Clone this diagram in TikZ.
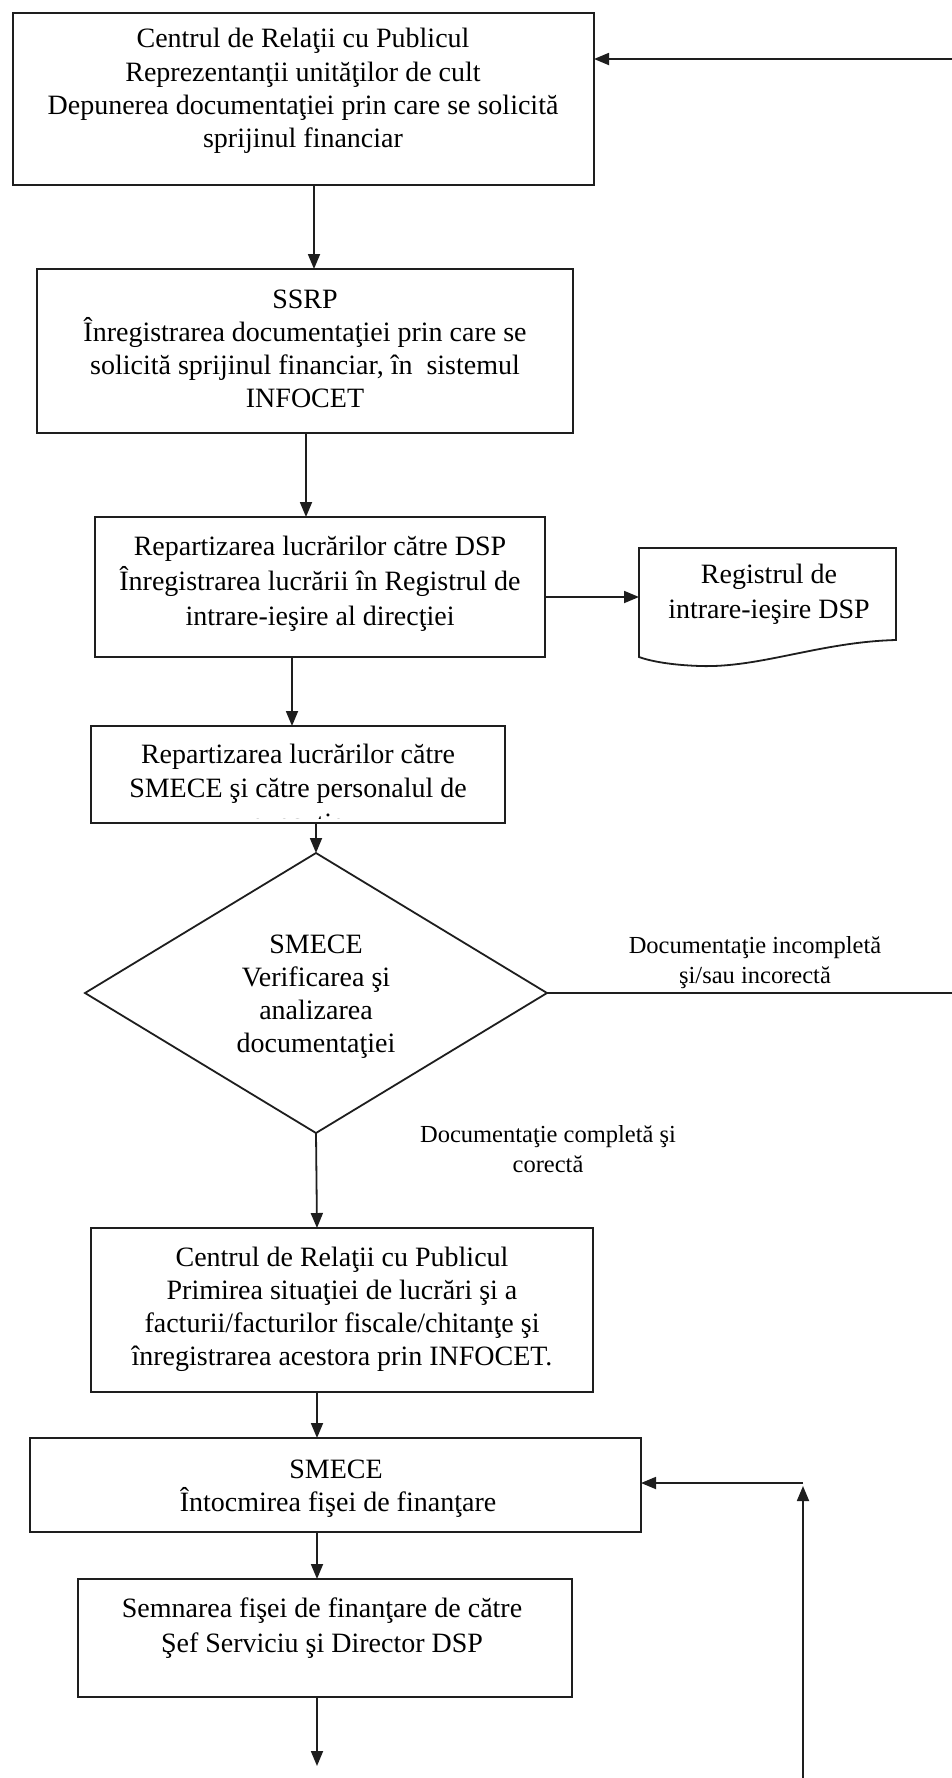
\documentclass[tikz,border=0pt]{standalone}
\usepackage{fontspec}
\setmainfont{Liberation Serif}
\usetikzlibrary{arrows.meta,shapes.geometric}
\definecolor{ink}{HTML}{1E1E1E}
\begin{document}
\begin{tikzpicture}[x=1pt,y=-1pt,
  every node/.style={inner sep=0pt,outer sep=0pt},
  box/.style={draw=ink,line width=1.8pt,rectangle,anchor=north west},
  dec/.style={draw=ink,line width=1.8pt,diamond,shape aspect=1},
  txt/.style={anchor=base,text=black,font=\fontsize{28}{33}\selectfont},
  lbl/.style={anchor=base,text=black,font=\fontsize{24.5}{30}\selectfont},
  arr/.style={draw=ink,line width=1.8pt,-{Triangle[length=15pt,width=12pt]}},
  plain/.style={draw=ink,line width=1.8pt}]
\useasboundingbox (0,0) rectangle (952,1778);
\fill[white] (0,0) rectangle (952,1778);

% x positions of the vertical flow arrows, y position of the side link
\coordinate (ax1) at (314,0);
\coordinate (ax2) at (306,0);
\coordinate (ax3) at (292,0);
\coordinate (ax4) at (316,0);
\coordinate (ax5) at (317,0);
\coordinate (ry) at (0,597);

% boxes
\node[box,minimum width=581,minimum height=172] (b1) at (13,13) {};
\node[box,minimum width=536,minimum height=164] (b2) at (37,269) {};
\node[box,minimum width=450,minimum height=140] (b3) at (95,517) {};
\node[box,minimum width=414,minimum height=97] (b4) at (91,726) {};
\node[dec,minimum width=462,minimum height=280] (d1) at (316,993) {};
\node[box,minimum width=502,minimum height=164] (b5) at (91,1228) {};
\node[box,minimum width=611,minimum height=94] (b6) at (30,1438) {};
\node[box,minimum width=494,minimum height=118] (b7) at (78,1579) {};

% register (document shape with a wavy lower edge)
\node[minimum width=257,minimum height=92,anchor=north west] (doc) at (639,548) {};
\draw[plain,line join=miter] (639,548) -- (896,548) -- (896,640)
  .. controls (820,642) and (760,668) .. (700,666)
  .. controls (670,665) and (650,661) .. (639,657) -- cycle;

% texts
\node[txt] (t1a) at (303,47) {Centrul de Relaţii cu Publicul};
\node[txt] (t1b) at (303,81) {Reprezentanţii unităţilor de cult};
\node[txt] (t1c) at (303,114) {Depunerea documentaţiei prin care se solicită};
\node[txt] (t1d) at (303,147) {sprijinul financiar};

\node[txt] (t2a) at (305,308) {SSRP};
\node[txt] (t2b) at (305,341) {Înregistrarea documentaţiei prin care se};
\node[txt] (t2c) at (305,374) {solicită sprijinul financiar, în\ \ sistemul};
\node[txt] (t2d) at (305,407) {INFOCET};

\node[txt] (t3a) at (320,555) {Repartizarea lucrărilor către DSP};
\node[txt] (t3b) at (320,590) {Înregistrarea lucrării în Registrul de};
\node[txt] (t3c) at (320,625) {intrare-ieşire al direcţiei};

\node[txt] (tda) at (769,583) {Registrul de};
\node[txt] (tdb) at (769,618) {intrare-ieşire DSP};

\node[txt] (t4a) at (298,763) {Repartizarea lucrărilor către};
\node[txt] (t4b) at (298,797) {SMECE şi către personalul de};
% third line runs past the bottom edge; only its tallest marks show
\begin{scope}
  \clip (b4.north west) rectangle ([yshift=5pt]b4.south east);
  \node[txt] (t4c) at (298,832) {execuţie};
\end{scope}

\node[txt] (tda1) at (316,953) {SMECE};
\node[txt] (tda2) at (316,986) {Verificarea şi};
\node[txt] (tda3) at (316,1019) {analizarea};
\node[txt] (tda4) at (316,1052) {documentaţiei};

\node[lbl] (l1a) at (755,953) {Documentaţie incompletă};
\node[lbl] (l1b) at (755,983) {şi/sau incorectă};
\node[lbl] (l2a) at (548,1142) {Documentaţie completă şi};
\node[lbl] (l2b) at (548,1172) {corectă};

\node[txt] (t5a) at (342,1266) {Centrul de Relaţii cu Publicul};
\node[txt] (t5b) at (342,1299) {Primirea situaţiei de lucrări şi a};
\node[txt] (t5c) at (342,1332) {facturii/facturilor fiscale/chitanţe şi};
\node[txt] (t5d) at (342,1365) {înregistrarea acestora prin INFOCET.};

\node[txt] (t6a) at (336,1478) {SMECE};
\node[txt] (t6b) at (338,1511) {Întocmirea fişei de finanţare};

\node[txt] (t7a) at (322,1617) {Semnarea fişei de finanţare de către};
\node[txt] (t7b) at (322,1652) {Şef Serviciu şi Director DSP};

% free ends of the connectors at the page border
\coordinate (back1) at (952,59);
\coordinate (out1) at (952,993);
\coordinate (endv) at (317,1766);
\coordinate (loopb) at (803,1778);
\coordinate (loopc) at (803,1483);

% main flow
\draw[arr] (b1.south -| ax1) -- (b2.north -| ax1);
\draw[arr] (b2.south -| ax2) -- (b3.north -| ax2);
\draw[arr] (b3.south -| ax3) -- (b4.north -| ax3);
\draw[arr] (b4.south -| ax4) -- (d1.north);
\draw[arr] (d1.south) -- (b5.north -| ax5);
\draw[arr] (b5.south -| ax5) -- (b6.north -| ax5);
\draw[arr] (b6.south -| ax5) -- (b7.north -| ax5);
\draw[arr] (b7.south -| ax5) -- (endv);

% side links
\draw[arr] (b3.east |- ry) -- (doc.west |- ry);
\draw[plain] (d1.east) -- (out1);
\draw[arr] (back1) -- (b1.east |- back1);
\draw[arr] (loopb) -- ([yshift=-3pt]loopc);
\draw[arr] (loopc) -- (b6.east |- loopc);
\end{tikzpicture}
\end{document}
